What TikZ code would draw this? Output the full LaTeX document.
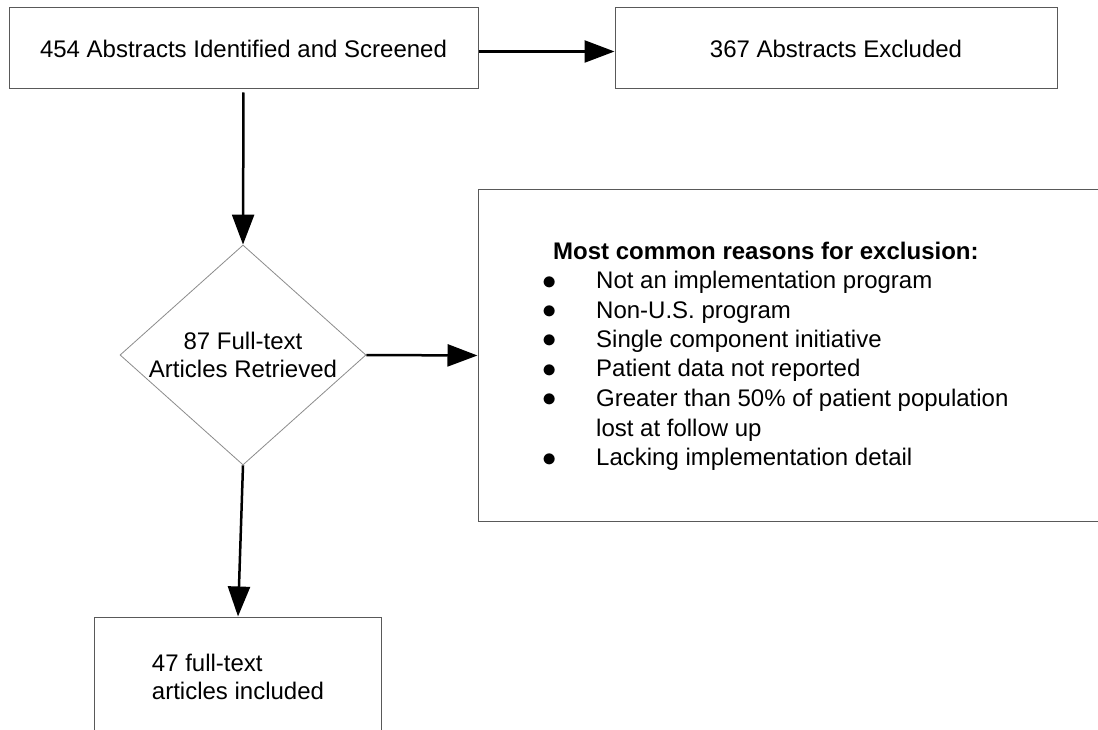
\documentclass[tikz,border=0pt]{standalone}
\usepackage{fontspec}
\setmainfont{Liberation Sans}
\usetikzlibrary{shapes.geometric,arrows.meta}
\newcommand{\bigbul}{\hspace*{1.5pt}\raisebox{-0.5pt}{\scalebox{1.15}{$\bullet$}}}
\begin{document}
\begin{tikzpicture}[x=1pt,y=-1pt,
  every node/.style={font=\fontsize{24}{28}\selectfont},
  box/.style={draw=black!65, line width=1pt, rectangle, inner sep=0pt},
  decision/.style={draw=black!45, line width=0.8pt, diamond, aspect=1.12, inner sep=0pt,
    minimum width=246pt, minimum height=220pt, align=center},
  conn/.style={-{Triangle[length=30pt,width=22pt]}, line width=2.5pt}
]
\useasboundingbox[fill=white] (0,0) rectangle (1098,730);
\node[box, minimum width=469pt, minimum height=81pt] (screen) at (243.5,48.5)
  {454 Abstracts Identified and Screened};
\node[box, minimum width=442pt, minimum height=81pt] (excl) at (836,48.5)
  {367 Abstracts Excluded};
\node[decision] (full) at (243,355) {87 Full-text\\Articles Retrieved};
\node[box, minimum width=632pt, minimum height=331pt] (reasons) at (794,355.5) {};
\node[anchor=base west, inner sep=0pt, font=\fontsize{24}{29.5}\selectfont] (list) at (541,259)
  {\begin{tabular}[t]{@{}p{55pt}@{}l@{}}
   \multicolumn{2}{@{\hspace{12pt}}l@{}}{\textbf{Most common reasons for exclusion:}}\\
   \bigbul & Not an implementation program\\
   \bigbul & Non-U.S. program\\
   \bigbul & Single component initiative\\
   \bigbul & Patient data not reported\\
   \bigbul & Greater than 50\% of patient population\\
           & lost at follow up\\
   \bigbul & Lacking implementation detail
   \end{tabular}};
\node[box, minimum width=287pt, minimum height=120pt, align=left] (incl) at (238,677)
  {47 full-text\\articles included};
\draw[conn] ([yshift=-3pt]screen.east) -- ([yshift=-3pt]excl.west);
\draw[conn, shorten <=3pt] (screen.south) -- (full.north);
\draw[conn] (full.east) -- (reasons.west);
\draw[conn] (full.south) -- (incl.north);
\end{tikzpicture}
\end{document}
